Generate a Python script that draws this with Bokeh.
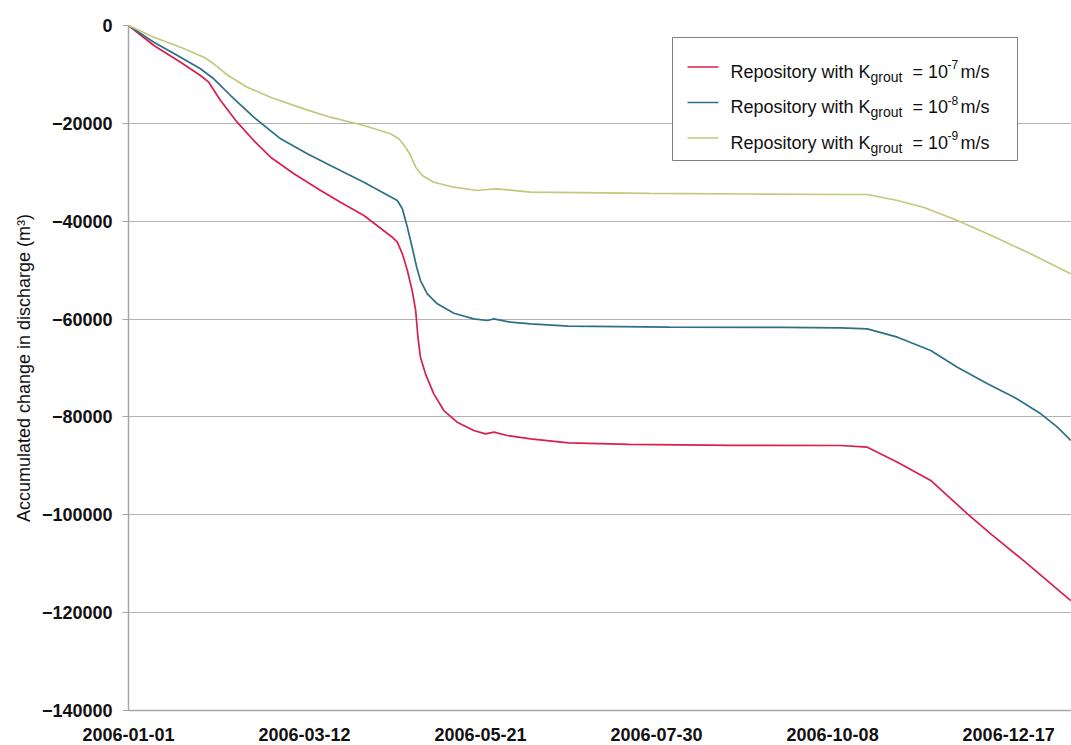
import pandas as pd
from bokeh.plotting import figure
from bokeh.models import Range1d, FixedTicker, BasicTickFormatter
from bokeh.core.properties import value
from bokeh.embed import file_html
from bokeh.resources import INLINE

# ---------------- data ----------------
start_date = "2006-01-01"
x_tick_labels = ["2006-01-01", "2006-03-12", "2006-05-21", "2006-07-30", "2006-10-08", "2006-12-17"]
y_ticks = [0, -20000, -40000, -60000, -80000, -100000, -120000, -140000]

# days since 2006-01-01 and accumulated change in discharge (m3)
red_day = [0, 10.1, 20.7, 28.6, 31.9, 36.6, 43.2, 49.8, 56.5, 65.8, 76.4, 84.3, 93.6, 104.9, 106.9, 108.9, 110.9,
           112.8, 114.2, 115.1, 116.1, 118.1, 121.4, 125.4, 130.7, 137.3, 142.0, 145.3, 150.6, 159.9, 175.0, 199.0,
           240.0, 283.2, 293.8, 305.8, 319.0, 333.6, 342.9, 357.5, 374.7]
red_val = [0, -4090, -7500, -10220, -11590, -15330, -19760, -23510, -26920, -30310, -33730, -36110, -38830, -43270,
           -44290, -46660, -50070, -54160, -58250, -63710, -67800, -71190, -75280, -78690, -81080, -82770, -83450,
           -83110, -83790, -84470, -85300, -85600, -85800, -85840, -86190, -89250, -92990, -99800, -103890, -110020,
           -117560]

blue_day = [0, 10.1, 20.7, 28.6, 33.9, 40.6, 49.8, 60.5, 71.1, 80.3, 93.6, 106.9, 108.9, 110.9, 112.8, 114.6, 116.1,
            118.8, 122.8, 129.4, 137.3, 142.7, 145.3, 152.0, 159.9, 175.0, 215.0, 260.0, 283.2, 293.8, 305.8, 319.0,
            329.6, 341.6, 352.2, 362.8, 369.4, 374.7]
blue_val = [0, -3410, -6480, -8850, -10890, -14310, -18740, -23160, -26220, -28610, -32030, -35770, -37460, -41220,
            -45310, -49400, -52120, -54840, -56880, -58800, -59950, -60290, -59950, -60640, -60970, -61430, -61640,
            -61710, -61800, -62000, -63700, -66420, -69830, -73230, -75960, -79360, -82100, -84820]

green_day = [0, 10.1, 20.7, 30.0, 33.9, 39.6, 47.2, 56.5, 69.7, 80.3, 93.6, 104.2, 107.5, 110.2, 112.2, 114.2, 116.8,
             121.4, 129.4, 138.7, 142.7, 146.7, 159.9, 207.0, 247.0, 283.2, 293.8, 305.8, 316.4, 329.6, 341.6, 357.5,
             374.7]
green_val = [0, -2390, -4430, -6480, -7830, -10220, -12610, -14650, -17030, -18740, -20440, -22130, -23150, -24870,
             -26570, -28960, -30660, -32030, -33050, -33720, -33520, -33380, -34070, -34330, -34440, -34540, -34540,
             -35770, -37200, -39850, -42580, -46340, -50750]

legend_exponents = ["-7", "-8", "-9"]
colors = ["#d81f4d", "#2c6f88", "#c4c77c"]

# ---------------- layout ----------------
FRAME_LEFT, FRAME_TOP = 128, 25      # page pixels of the plot frame
FRAME_W, FRAME_H = 943, 685
X_END = 375
t0 = pd.Timestamp(start_date)
tick_days = [(pd.Timestamp(s) - t0).days for s in x_tick_labels]

p = figure(width=1071, height=745, output_backend="svg", toolbar_location=None,
           x_range=Range1d(0, X_END), y_range=Range1d(y_ticks[-1], y_ticks[0]),
           min_border_left=128, min_border_right=0, min_border_top=25, min_border_bottom=35)
p.background_fill_color = "white"
p.border_fill_color = "white"
p.outline_line_color = None

for d, v, c in zip([red_day, blue_day, green_day], [red_val, blue_val, green_val], colors):
    p.line(d, v, line_color=c, line_width=1.7)

# axes
p.xaxis.ticker = FixedTicker(ticks=tick_days)
p.xaxis.major_label_overrides = {d: s for d, s in zip(tick_days, x_tick_labels)}
p.yaxis.ticker = FixedTicker(ticks=y_ticks)
p.yaxis.formatter = BasicTickFormatter(use_scientific=False)
p.xaxis.minor_tick_line_color = None
p.yaxis.minor_tick_line_color = None
p.xaxis.major_tick_out = 0
p.xaxis.major_tick_in = 0
p.yaxis.major_tick_out = 6
p.yaxis.major_tick_in = 0
p.yaxis.major_tick_line_color = "#a6a6a6"
for ax in (p.xaxis, p.yaxis):
    ax.axis_line_color = "#a6a6a6"
    ax.axis_line_width = 1.5
    ax.major_label_text_font = "Liberation Sans"
    ax.major_label_text_font_style = "bold"
    ax.major_label_text_font_size = "18px"
    ax.major_label_text_color = "#111111"
p.xaxis.major_label_standoff = 17
p.yaxis.major_label_standoff = 10
p.yaxis.axis_label = "Accumulated change in discharge (m³)"
p.yaxis.axis_label_text_font = "Liberation Sans"
p.yaxis.axis_label_text_font_style = "normal"
p.yaxis.axis_label_text_font_size = "18px"
p.yaxis.axis_label_text_color = "#111111"
p.yaxis.axis_label_standoff = 5
p.xgrid.grid_line_color = None
p.ygrid.grid_line_color = "#b3b3b3"
p.ygrid.grid_line_width = 1

# ---------------- legend (drawn by hand for sub/superscripts) ----------------
def gx(px):
    return (px - FRAME_LEFT) * X_END / FRAME_W

def gy(py):
    return y_ticks[0] - (py - FRAME_TOP) * (y_ticks[0] - y_ticks[-1]) / FRAME_H

p.quad(left=[gx(672)], right=[gx(1017)], top=[gy(37)], bottom=[gy(160)],
       fill_color="white", line_color="#7f7f7f", line_width=1)

swatch_y = [66.5, 102, 137.5]
base_y = [71, 106.5, 142]
for c, sy in zip(colors, swatch_y):
    p.segment(x0=[gx(687)], x1=[gx(718)], y0=[gy(sy)], y1=[gy(sy)], line_color=c, line_width=1.7)

font = value("Liberation Sans")
main_x, main_t, main_y = [], [], []
for by in base_y:
    main_x += [gx(730), gx(912), gx(960)]
    main_t += ["Repository with K", "= 10", "m/s"]
    main_y += [gy(by)] * 3
p.text(x=main_x, y=main_y, text=main_t, text_font=font, text_font_size="18px",
       text_baseline="alphabetic", text_align="left", text_color="#111111")
p.text(x=[gx(870)] * 3, y=[gy(by + 5) for by in base_y], text=["grout"] * 3, text_font=font,
       text_font_size="14px", text_baseline="alphabetic", text_align="left", text_color="#111111")
p.text(x=[gx(947)] * 3, y=[gy(by - 7) for by in base_y], text=legend_exponents, text_font=font,
       text_font_size="12px", text_baseline="alphabetic", text_align="left", text_color="#111111")

open("out.html", "w").write(file_html(p, INLINE))
